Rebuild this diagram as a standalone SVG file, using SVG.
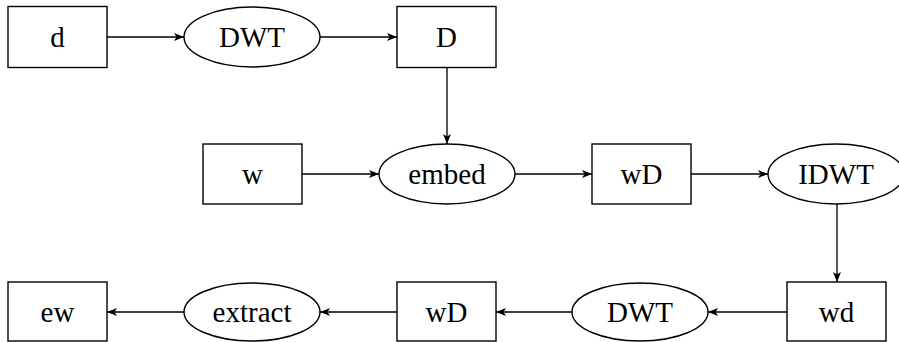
<svg xmlns="http://www.w3.org/2000/svg" width="899" height="342" viewBox="0 0 899 342">
<style>
.n rect, .n ellipse { fill: #fff; stroke: #000; stroke-width: 1.4; }
.n text { font-size: 29px; text-anchor: middle; fill: #000; }
.e line { stroke: #000; stroke-width: 1.3; marker-end: url(#ah); }
</style>
<defs>
<marker id="ah" viewBox="0 0 10 8" refX="10" refY="4" markerWidth="10" markerHeight="8" markerUnits="userSpaceOnUse" orient="auto">
<path d="M0,0 L10,4 L0,8 L2.5,4 Z" fill="#000"/>
</marker>
</defs>
<rect width="899" height="342" fill="#fff"/>
<g id="edges" class="e">
<line x1="107" y1="37" x2="184" y2="37"/>
<line x1="320" y1="37" x2="397" y2="37"/>
<line x1="447" y1="67" x2="447" y2="144"/>
<line x1="302" y1="174" x2="379" y2="174"/>
<line x1="515" y1="174" x2="592" y2="174"/>
<line x1="691" y1="174" x2="768" y2="174"/>
<line x1="837" y1="204" x2="837" y2="282"/>
<line x1="787" y1="312" x2="708" y2="312"/>
<line x1="572" y1="312" x2="496" y2="312"/>
<line x1="397" y1="312" x2="320" y2="312"/>
<line x1="184" y1="312" x2="107" y2="312"/>
</g>
<g font-family="'Liberation Serif', 'Times New Roman', 'DejaVu Serif', serif">
<g id="d" class="n"><rect x="8" y="6.5" width="99" height="61"/><text x="57.5" y="47">d</text></g>
<g id="dwt1" class="n"><ellipse cx="252" cy="37" rx="68" ry="30"/><text x="252" y="47">DWT</text></g>
<g id="D" class="n"><rect x="397" y="6.5" width="99" height="61"/><text x="446.5" y="47">D</text></g>
<g id="w" class="n"><rect x="203" y="144" width="99" height="60"/><text x="252.5" y="184">w</text></g>
<g id="embed" class="n"><ellipse cx="447" cy="174" rx="68" ry="30"/><text x="447" y="184">embed</text></g>
<g id="wD1" class="n"><rect x="592" y="144" width="99" height="60"/><text x="641.5" y="184">wD</text></g>
<g id="idwt" class="n"><ellipse cx="836" cy="174" rx="68" ry="30"/><text x="836" y="184">IDWT</text></g>
<g id="wd" class="n"><rect x="787" y="282" width="99" height="59"/><text x="836.5" y="322">wd</text></g>
<g id="dwt2" class="n"><ellipse cx="640" cy="312" rx="68" ry="29"/><text x="640" y="322">DWT</text></g>
<g id="wD2" class="n"><rect x="397" y="282" width="99" height="59"/><text x="446.5" y="322">wD</text></g>
<g id="extract" class="n"><ellipse cx="252" cy="312" rx="68" ry="29"/><text x="252" y="322">extract</text></g>
<g id="ew" class="n"><rect x="8" y="282" width="99" height="59"/><text x="57.5" y="322">ew</text></g>
</g>
</svg>
